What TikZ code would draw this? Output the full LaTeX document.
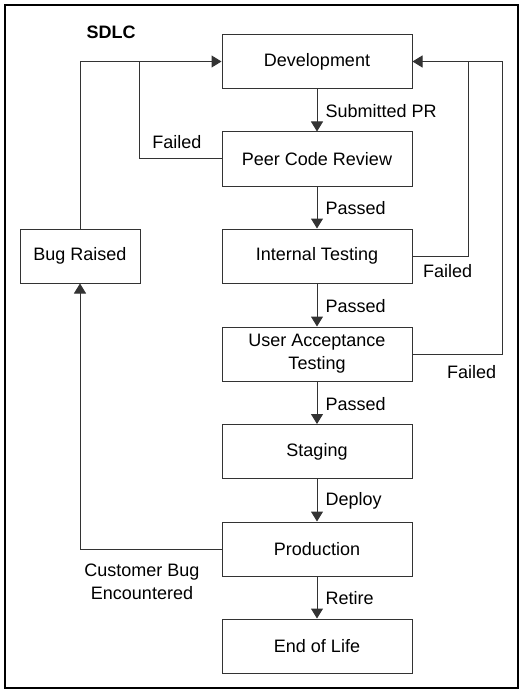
\documentclass[tikz,border=0pt]{standalone}
\usepackage{fontspec}
\setmainfont{Liberation Sans}
\usetikzlibrary{arrows.meta}
\definecolor{ln}{HTML}{333333}
\begin{document}
\begin{tikzpicture}[x=1pt,y=-1pt,
  font=\fontsize{18}{23}\selectfont,
  box/.style={draw=ln,line width=1pt,minimum width=190pt,minimum height=54pt,inner sep=0pt,align=center},
  conn/.style={draw=ln,line width=1pt},
  arr/.style={conn,-{Triangle[width=12pt,length=10pt]}},
  lbl/.style={inner sep=0pt,anchor=west}]
\useasboundingbox (0,0) rectangle (523,695);
\draw[line width=2.5pt] (5,5) rectangle (518,688);
\node[font=\fontsize{18}{23}\selectfont\bfseries] (title) at (111,32) {SDLC};
\node[box] (dev) at (317,61.5) {Development};
\node[box] (pcr) at (317,159) {Peer Code Review};
\node[box] (it) at (317,256) {Internal Testing};
\node[box] (uat) at (317,354) {User Acceptance\\Testing};
\node[box] (stg) at (317,451.5) {Staging};
\node[box] (prod) at (317,549) {Production};
\node[box] (eol) at (317,646) {End of Life};
\node[box,minimum width=120pt] (bug) at (80,256) {Bug Raised};
% main flow
\draw[arr] (dev) -- (pcr) node[lbl,midway,xshift=8pt,yshift=-1pt] {Submitted PR};
\draw[arr] (pcr) -- (it) node[lbl,midway,xshift=8pt,yshift=-1pt] {Passed};
\draw[arr] (it) -- (uat) node[lbl,midway,xshift=8pt,yshift=-1pt] {Passed};
\draw[arr] (uat) -- (stg) node[lbl,midway,xshift=8pt,yshift=-1pt] {Passed};
\draw[arr] (stg) -- (prod) node[lbl,midway,xshift=8pt,yshift=-1pt] {Deploy};
\draw[arr] (prod) -- (eol) node[lbl,midway,xshift=8pt,yshift=-1pt] {Retire};
% left loop
\coordinate (lj) at (139,61.5);
\coordinate (rj) at (468,61.5);
\draw[arr] (bug.north) |- (dev.west);
\draw[conn] (pcr.west) -| (lj);
\node[inner sep=0pt] (f1) at (177,142) {Failed};
\draw[arr] (prod.west) -| (bug.south);
\node[align=center,inner sep=0pt] (cb) at (142,582) {Customer Bug\\Encountered};
% right loop
\draw[arr] (uat.east) -| (502,61.5) -- (dev.east);
\draw[conn] (it.east) -| (rj);
\node[lbl] (f2) at (423,271) {Failed};
\node[lbl] (f3) at (447,372) {Failed};
\end{tikzpicture}
\end{document}
